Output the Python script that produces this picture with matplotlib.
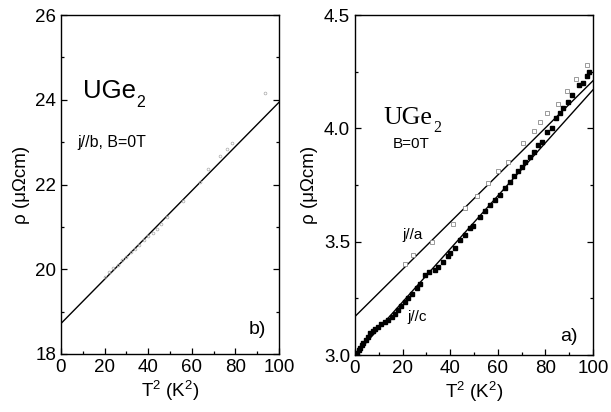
import matplotlib
matplotlib.use("Agg")
import matplotlib.pyplot as plt
import numpy as np
from matplotlib.ticker import MultipleLocator

plt.rcParams['font.family'] = ['Liberation Sans', 'DejaVu Sans']
plt.rcParams['mathtext.fontset'] = 'custom'
plt.rcParams['mathtext.rm'] = 'Liberation Sans'

# ---- Panel b) j//b ----
b_T2 = [20.2, 22, 24, 26, 28, 30, 32, 34, 36, 38, 40, 42, 44, 46, 48.5,
        56, 63.8, 67.6, 73, 76, 78.3, 93.6]
b_rho = [19.82, 19.93, 20.02, 20.10, 20.22, 20.30, 20.40, 20.48, 20.58, 20.68,
         20.78, 20.86, 20.96, 21.06, 21.23, 21.62, 22.05, 22.37, 22.68, 22.84, 22.97, 24.17]
b_fit = [18.72, 23.94]   # values at T^2 = 0 and 100

# ---- Panel a) j//a (open) and j//c (filled) ----
a_T2 = [21, 24.5, 32.2, 41.3, 46.2, 51.1, 56, 60.2, 64.4, 70.7, 75, 77.7,
        80.5, 85.4, 88.9, 92.9, 97.4]
a_rho = [3.40, 3.44, 3.50, 3.58, 3.647, 3.70, 3.757, 3.81, 3.853, 3.934, 3.99,
         4.03, 4.069, 4.107, 4.166, 4.216, 4.28]
a_fit = [3.17, 4.21]

c_T2 = [0.3, 0.7, 1.5, 2.0, 2.8, 3.5, 4.5, 5.6, 6.5, 7.5, 8.6, 9.8, 11, 12.5, 14,
        15.5, 17, 18.2, 19.5, 21, 22.4, 24, 25.9, 27.5, 29.4, 31, 33.6, 35,
        37.1, 39, 40, 42, 44, 46.2, 48.3, 49.7, 52.5, 54.5, 56.7, 59, 61, 63,
        65, 66.8, 68.6, 70, 71.4, 73.5, 75, 77, 78.4, 80.5, 82.6, 84.5, 86.1,
        87.5, 89.6, 91, 94.3, 96, 97.4, 98.5]
c_rho = [3.0, 3.007, 3.02, 3.03, 3.044, 3.055, 3.068, 3.081, 3.095, 3.105, 3.115,
         3.125, 3.135, 3.145, 3.154, 3.167, 3.18, 3.199, 3.215, 3.232, 3.25,
         3.27, 3.294, 3.315, 3.353, 3.365, 3.375, 3.388, 3.41, 3.435, 3.449,
         3.47, 3.507, 3.53, 3.559, 3.57, 3.61, 3.635, 3.662, 3.685, 3.706, 3.735,
         3.765, 3.79, 3.81, 3.83, 3.853, 3.875, 3.895, 3.926, 3.94, 3.985, 4.0,
         4.044, 4.066, 4.088, 4.117, 4.147, 4.19, 4.20, 4.23, 4.25]
c_fit = [3.0, 4.17]

fit_x = [0, 100]

W, H = 611, 412
fig = plt.figure(figsize=(W / 100, H / 100), dpi=100)

def px_axes(x0, x1, y0, y1):
    return fig.add_axes([x0 / W, (H - y1) / H, (x1 - x0) / W, (y1 - y0) / H])

axb = px_axes(61, 279, 15, 354)
axa = px_axes(355, 593, 15, 355)

for ax in (axb, axa):
    ax.set_xlim(0, 100)
    ax.xaxis.set_major_locator(MultipleLocator(20))
    ax.xaxis.set_minor_locator(MultipleLocator(10))
    ax.tick_params(which='both', direction='in', top=False, right=True,
                   labelsize=13.5, width=0.9)
    ax.tick_params(which='major', length=4)
    ax.tick_params(which='minor', length=2.5)
    for s in ax.spines.values():
        s.set_linewidth(1.0)
    ax.set_xlabel(r'T$^2$ (K$^2$)', fontsize=13.5, labelpad=2)
    ax.set_ylabel('ρ (μΩcm)', fontsize=13.5, labelpad=4)

def formula(ax, x, y, size, family):
    t = ax.text(x, y, 'UGe', transform=ax.transAxes, fontsize=size, family=family)
    ax.annotate('2', xy=(1, 0), xycoords=t, xytext=(0.5, -5),
                textcoords='offset points', fontsize=size * 0.62,
                family=family, va='bottom', ha='left')

# Panel b
axb.set_ylim(18, 26)
axb.yaxis.set_major_locator(MultipleLocator(2))
axb.yaxis.set_minor_locator(MultipleLocator(1))
axb.plot(fit_x, b_fit, color='black', lw=1.0)
axb.plot(b_T2, b_rho, linestyle='none', marker='o', ms=2.0, mfc='none',
         mec='#a8a8a8', mew=0.5)
formula(axb, 0.10, 0.755, 18.5, ['Liberation Sans', 'DejaVu Sans'])
axb.text(0.075, 0.61, 'j//b, B=0T', transform=axb.transAxes, fontsize=11.5)
axb.text(0.86, 0.06, 'b)', transform=axb.transAxes, fontsize=14)

# Panel a
axa.set_ylim(3.0, 4.5)
axa.yaxis.set_major_locator(MultipleLocator(0.5))
axa.yaxis.set_minor_locator(MultipleLocator(0.25))
axa.yaxis.set_major_formatter(matplotlib.ticker.FormatStrFormatter('%.1f'))
axa.plot(fit_x, a_fit, color='black', lw=1.0)
axa.plot(fit_x, c_fit, color='black', lw=1.0)
axa.plot(a_T2, a_rho, linestyle='none', marker='s', ms=2.6, mfc='white',
         mec='#8a8a8a', mew=0.6)
axa.plot(c_T2, c_rho, linestyle='none', marker='s', ms=3.0, color='black')
formula(axa, 0.12, 0.68, 18.5, ['Liberation Serif', 'DejaVu Serif'])
axa.text(0.16, 0.61, 'B=0T', transform=axa.transAxes, fontsize=11)
axa.text(0.20, 0.34, 'j//a', transform=axa.transAxes, fontsize=11)
axa.text(0.22, 0.10, 'j//c', transform=axa.transAxes, fontsize=11)
axa.text(0.86, 0.04, 'a)', transform=axa.transAxes, fontsize=14)

fig.savefig('out.png', dpi=100)
